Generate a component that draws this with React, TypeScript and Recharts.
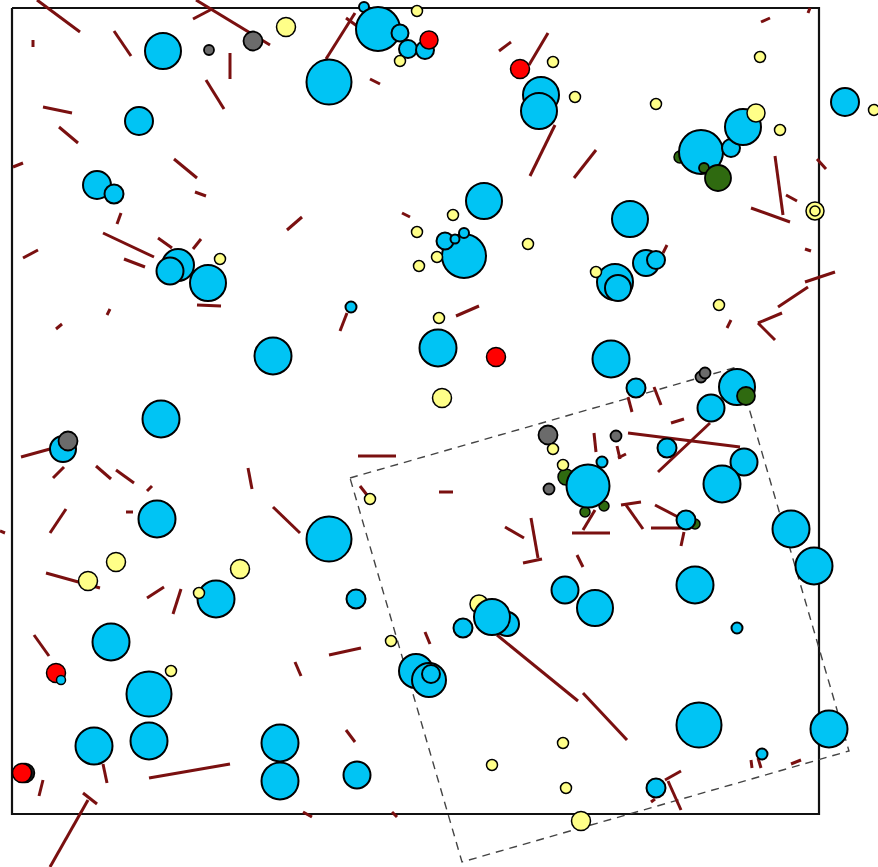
import { ScatterChart, Scatter, XAxis, YAxis } from "recharts";

// bubble = [x, y, radius] in page units (y grows downward)
type Bubble = [number, number, number];
type Seg = [number, number, number, number];

const frame = [[12, 8], [819, 8], [819, 814], [12, 814], [12, 8]];
const tiltedBox = [[350, 478], [737, 367], [849, 751], [462, 862], [350, 478]];

const greenUnder: Bubble[] = [
  [680, 157, 6], [566, 477, 8], [585, 512, 5], [604, 506, 5], [695, 524, 5],
];
const yellowUnder: Bubble[] = [[479, 604, 9]];

const cyanBubbles: Bubble[] = [
  [163, 51, 18], [139, 121, 14], [97, 185, 14], [114, 194, 9.5], [178, 265, 16],
  [170, 271, 13.5], [208, 283, 18], [364, 7, 5], [378, 29, 22], [400, 33, 8.5],
  [408, 49, 9], [425, 50, 9], [329, 82, 22.5], [541, 95, 18], [539, 111, 18],
  [484, 201, 18], [464, 256, 22], [445, 241, 8.5], [455, 239, 4.5], [464, 233, 5],
  [845, 102, 14], [701, 152, 22], [731, 148, 9], [743, 127, 18], [630, 219, 18],
  [646, 263, 13], [656, 260, 9], [615, 282, 18], [618, 288, 13], [273, 356, 18.5],
  [161, 419, 18.5], [63, 449, 13], [157, 519, 18.5], [216, 599, 18.5], [351, 307, 5.5],
  [438, 348, 18.5], [588, 486, 21.5], [329, 539, 22.5], [565, 590, 13.5], [611, 359, 18.5],
  [636, 388, 9.5], [737, 387, 18], [711, 408, 13.5], [667, 448, 9.5], [602, 462, 5.5],
  [744, 462, 13.5], [722, 484, 18.5], [686, 520, 9.5], [791, 529, 18.5], [814, 566, 18.5],
  [695, 585, 18.5], [111, 642, 18.5], [149, 694, 22.5], [94, 746, 18.5], [149, 741, 18.5],
  [280, 743, 18.5], [280, 781, 18.5], [356, 599, 9.5], [416, 671, 17], [429, 680, 17],
  [431, 674, 9], [463, 628, 9.5], [507, 624, 12], [492, 617, 18], [595, 608, 18],
  [357, 775, 13.5], [737, 628, 5.5], [699, 725, 22.5], [829, 729, 18.5], [762, 754, 5.5],
  [656, 788, 9.5],
];

const grayBubbles: Bubble[] = [
  [209, 50, 5], [253, 41, 9.5], [68, 441, 9.5], [548, 435, 9.5], [549, 489, 5.5],
  [616, 436, 5.5], [701, 377, 5.5], [705, 373, 5.5],
];
const darkBubbles: Bubble[] = [[25, 773, 9.5]];
const redBubbles: Bubble[] = [
  [429, 40, 9], [520, 69, 9.5], [496, 357, 9.5], [56, 673, 9.5], [22, 773, 9.5],
];
const yellowBubbles: Bubble[] = [
  [286, 27, 9.5], [220, 259, 5.5], [417, 11, 5.5], [400, 61, 5.5], [553, 62, 5.5],
  [575, 97, 5.5], [453, 215, 5.5], [417, 232, 5.5], [437, 257, 5.5], [419, 266, 5.5],
  [528, 244, 5.5], [760, 57, 5.5], [656, 104, 5.5], [874, 110, 5.5], [756, 113, 9],
  [780, 130, 5.5], [815, 211, 9], [815, 211, 5], [596, 272, 5.5], [719, 305, 5.5],
  [439, 318, 5.5], [442, 398, 9.5], [553, 449, 5.5], [563, 465, 5.5], [370, 499, 5.5],
  [116, 562, 9.5], [240, 569, 9.5], [88, 581, 9.5], [199, 593, 5.5], [171, 671, 5.5],
  [391, 641, 5.5], [563, 743, 5.5], [492, 765, 5.5], [566, 788, 5.5], [581, 821, 9.5],
];
const greenBubbles: Bubble[] = [[704, 168, 5], [718, 178, 13], [746, 396, 9]];
const cyanOver: Bubble[] = [[61, 680, 4.5]];

const segments: Seg[] = [
  [37, 0, 80, 32], [33, 40, 33, 47], [114, 31, 131, 56], [193, 19, 212, 9], [196, 0, 270, 45],
  [230, 53, 230, 79], [206, 80, 224, 109], [43, 107, 72, 113], [59, 127, 78, 143], [13, 167, 23, 163],
  [174, 159, 197, 178], [195, 192, 206, 196], [121, 213, 117, 224], [103, 233, 154, 257], [23, 258, 38, 250],
  [124, 259, 145, 267], [158, 238, 172, 248], [193, 249, 201, 239], [287, 230, 302, 217], [326, 59, 355, 13],
  [346, 18, 357, 26], [370, 79, 380, 84], [499, 51, 511, 42], [529, 65, 548, 33], [555, 125, 530, 176],
  [574, 178, 596, 150], [402, 213, 410, 217], [761, 22, 770, 18], [808, 13, 810, 8], [775, 156, 783, 215],
  [786, 195, 797, 201], [751, 208, 790, 222], [817, 159, 826, 169], [663, 253, 667, 245], [805, 249, 811, 251],
  [805, 282, 835, 272], [778, 307, 808, 287], [197, 305, 221, 306], [56, 329, 62, 324], [107, 315, 110, 309],
  [21, 457, 50, 449], [53, 478, 64, 467], [96, 466, 111, 479], [116, 470, 134, 483], [147, 491, 152, 486],
  [248, 468, 252, 489], [273, 507, 300, 533], [50, 533, 66, 509], [0, 531, 5, 533], [126, 512, 133, 512],
  [46, 573, 100, 588], [147, 598, 164, 587], [173, 614, 181, 589], [340, 331, 347, 313], [456, 316, 479, 306],
  [358, 456, 396, 456], [439, 492, 453, 492], [360, 486, 367, 495], [505, 527, 524, 538], [531, 518, 538, 558],
  [523, 563, 542, 559], [577, 555, 583, 567], [572, 533, 610, 533], [583, 530, 595, 510], [727, 328, 731, 320],
  [758, 323, 782, 313], [758, 323, 775, 340], [628, 397, 632, 412], [654, 387, 661, 405], [671, 423, 684, 419],
  [628, 433, 740, 447], [658, 472, 710, 423], [594, 433, 596, 452], [617, 446, 620, 459], [618, 458, 626, 454],
  [621, 505, 641, 502], [626, 505, 643, 529], [655, 505, 678, 517], [651, 528, 681, 528], [684, 532, 681, 546],
  [34, 635, 49, 656], [103, 764, 107, 783], [43, 780, 39, 796], [149, 778, 230, 764], [83, 793, 97, 804],
  [88, 800, 50, 867], [295, 662, 301, 676], [329, 655, 361, 648], [425, 632, 430, 644], [497, 635, 578, 701],
  [583, 693, 627, 740], [346, 730, 355, 742], [303, 812, 312, 817], [392, 812, 397, 817], [751, 760, 752, 768],
  [758, 758, 761, 768], [791, 764, 801, 760], [665, 780, 681, 771], [668, 781, 681, 810], [651, 802, 655, 799],
];

const CYAN = "#00c4f4";
const YELLOW = "#ffff88";
const SEG = "#7a1010";

const pts = (list: Bubble[]) => list.map(([x, y, r]) => ({ x, y, r }));
const path = (list: number[][]) => list.map(([x, y]) => ({ x, y }));

const bubble = (fill: string, sw = 1.8) => (props: any) => {
  const { cx, cy, payload } = props;
  if (cx == null || cy == null) return <g />;
  return <circle cx={cx} cy={cy} r={payload.r} fill={fill} stroke="#000" strokeWidth={sw} />;
};

const noDot = () => <g />;

export default function App() {
  const layers: [Bubble[], string, number][] = [
    [greenUnder, "#2f6a10", 1.5],
    [yellowUnder, YELLOW, 1.5],
    [cyanBubbles, CYAN, 2],
    [grayBubbles, "#6b6b6b", 1.8],
    [darkBubbles, "#1a1a1a", 1.5],
    [redBubbles, "#ff0000", 1.5],
    [yellowBubbles, YELLOW, 1.5],
    [greenBubbles, "#2f6a10", 1.8],
    [cyanOver, CYAN, 1.5],
  ];
  return (
    <div style={{ position: "absolute", left: 0, top: 0, background: "#fff" }}>
      <ScatterChart width={878} height={867} margin={{ top: 0, right: 0, bottom: 0, left: 0 }}>
        <XAxis type="number" dataKey="x" domain={[0, 878]} hide allowDataOverflow />
        <YAxis type="number" dataKey="y" domain={[0, 867]} reversed hide allowDataOverflow />
        <Scatter
          data={path(frame)}
          line={{ stroke: "#111", strokeWidth: 2.2 }}
          shape={noDot}
          isAnimationActive={false}
        />
        <Scatter
          data={path(tiltedBox)}
          line={{ stroke: "#444", strokeWidth: 1.4, strokeDasharray: "8 6" }}
          shape={noDot}
          isAnimationActive={false}
        />
        {segments.map(([x1, y1, x2, y2], i) => (
          <Scatter
            key={"s" + i}
            data={[{ x: x1, y: y1 }, { x: x2, y: y2 }]}
            line={{ stroke: SEG, strokeWidth: 3 }}
            shape={noDot}
            isAnimationActive={false}
          />
        ))}
        {layers.map(([list, fill, sw], i) => (
          <Scatter
            key={"b" + i}
            data={pts(list)}
            shape={bubble(fill, sw)}
            isAnimationActive={false}
          />
        ))}
      </ScatterChart>
    </div>
  );
}
